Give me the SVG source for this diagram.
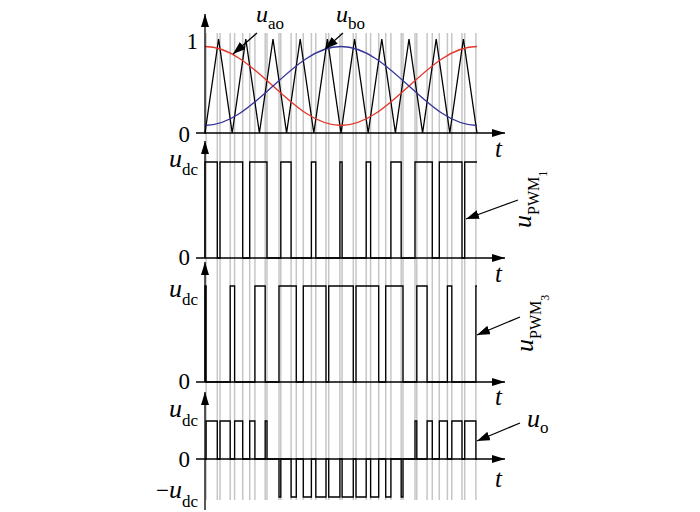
<svg xmlns="http://www.w3.org/2000/svg" width="700" height="512" viewBox="0 0 700 512" font-family="'Liberation Serif', 'Times New Roman', serif">
<defs>
<marker id="ah" viewBox="0 0 13 8" refX="13" refY="4" markerWidth="13" markerHeight="8" markerUnits="userSpaceOnUse" orient="auto"><path d="M0,0L13,4L0,8Z" fill="#000"/></marker>
<marker id="pa" viewBox="0 0 13 9" refX="13" refY="4.5" markerWidth="13" markerHeight="9" markerUnits="userSpaceOnUse" orient="auto"><path d="M0,0L13,4.5L0,9Z" fill="#000"/></marker>
</defs>
<style>
.grid{stroke:#c6c6c6;stroke-width:1.5;fill:none}
.axis{stroke:#000;stroke-width:1.3;fill:none;marker-end:url(#ah)}
.wave{stroke:#000;stroke-width:1.3;fill:none}
.red{stroke:#e5352a;stroke-width:1.3;fill:none}
.blue{stroke:#34349a;stroke-width:1.3;fill:none}
.ptr{stroke:#000;stroke-width:1.2;fill:none;marker-end:url(#pa)}
text{font-family:"Liberation Serif","Times New Roman",serif;fill:#000}
.u{font-family:"Liberation Serif","Times New Roman",serif;font-style:italic;font-size:26px}
.ut{font-family:"Liberation Serif","Times New Roman",serif;font-style:italic;font-size:24px}
.sub{font-family:"Liberation Serif","Times New Roman",serif;font-size:17px}
.sub2{font-family:"Liberation Serif","Times New Roman",serif;font-size:16px}
.sub3{font-family:"Liberation Serif","Times New Roman",serif;font-size:12px}
.num{font-family:"Liberation Serif","Times New Roman",serif;font-size:23px}
.t{font-family:"Liberation Serif","Times New Roman",serif;font-style:italic;font-size:25px}
</style>
<rect x="0" y="0" width="700" height="512" fill="#fff"/>

<g id="switch-instants">
<path class="grid" d="M206.1 33V500M217.3 33V500M220 33V500M230.2 33V500M234.6 33V500M242.7 33V500M249.7 33V500M254.9 33V500M265.2 33V500M267 33V500M279 33V500M280.8 33V500M291.1 33V500M296.3 33V500M303.3 33V500M311.4 33V500M315.8 33V500M326 33V500M328.7 33V500M339.9 33V500M342.1 33V500M353.3 33V500M356 33V500M366.2 33V500M370.6 33V500M378.7 33V500M385.7 33V500M390.9 33V500M401.2 33V500M403 33V500M415 33V500M416.8 33V500M427.1 33V500M432.3 33V500M439.3 33V500M447.4 33V500M451.8 33V500M462 33V500M464.7 33V500M475.9 33V500"/>
</g>

<g id="panel1">
<path class="wave" d="M205,133L218.6,39L232.2,133L245.8,39L259.4,133L273,39L286.6,133L300.2,39L313.8,133L327.4,39L341,133L354.6,39L368.2,133L381.8,39L395.4,133L409,39L422.6,133L436.2,39L449.8,133L463.4,39L477,133"/>
<path class="red" d="M205,46.52C229.61,46.52 250.82,65.77 273,86C295.18,106.23 316.39,125.48 341,125.48C365.61,125.48 386.82,106.23 409,86C431.18,65.77 452.39,46.52 477,46.52"/>
<path class="blue" d="M205,125.48C229.61,125.48 250.82,106.23 273,86C295.18,65.77 316.39,46.52 341,46.52C365.61,46.52 386.82,65.77 409,86C431.18,106.23 452.39,125.48 477,125.48"/>
<line class="axis" x1="205" y1="134" x2="205" y2="14"/>
<line class="axis" x1="196" y1="133" x2="505" y2="133"/>
<text class="num" x="198" y="49" text-anchor="end">1</text>
<text class="num" x="190" y="142" text-anchor="end">0</text>
<text class="t" x="495" y="157">t</text>
<text x="256" y="22"><tspan class="ut">u</tspan><tspan class="sub" dy="7">ao</tspan></text>
<text x="336" y="22"><tspan class="ut">u</tspan><tspan class="sub" dy="7">bo</tspan></text>
</g>

<g id="panel2">
<path class="wave" d="M205,258V162H217.3V258H220V162H242.7V258H249.7V162H267V258H280.8V162H291.1V258H311.4V162H315.8V258H339.9V162H342.1V258H366.2V162H370.6V258H390.9V162H401.2V258H415V162H432.3V258H439.3V162H462V258H464.7V162H477"/>
<line class="axis" x1="205" y1="258" x2="205" y2="141"/>
<line class="axis" x1="196" y1="258" x2="505" y2="258"/>
<text x="198" y="167" text-anchor="end"><tspan class="u">u</tspan><tspan class="sub" dy="8">dc</tspan></text>
<text class="num" x="190" y="265" text-anchor="end">0</text>
<text class="t" x="495" y="282">t</text>
<text transform="translate(531,228) rotate(-90)"><tspan class="u">u</tspan><tspan class="sub2" dy="8">PWM</tspan><tspan class="sub3" dy="8">1</tspan></text>
</g>

<g id="panel3">
<path class="wave" d="M205,382V286H206.1V382H230.2V286H234.6V382H254.9V286H265.2V382H279V286H296.3V382H303.3V286H326V382H328.7V286H353.3V382H356V286H378.7V382H385.7V286H403V382H416.8V286H427.1V382H447.4V286H451.8V382H475.9V286H477"/>
<line class="axis" x1="205" y1="382" x2="205" y2="262"/>
<line class="axis" x1="196" y1="382" x2="505" y2="382"/>
<text x="198" y="297" text-anchor="end"><tspan class="u">u</tspan><tspan class="sub" dy="8">dc</tspan></text>
<text class="num" x="190" y="389" text-anchor="end">0</text>
<text class="t" x="495" y="405">t</text>
<text transform="translate(533,352) rotate(-90)"><tspan class="u">u</tspan><tspan class="sub2" dy="8">PWM</tspan><tspan class="sub3" dy="8">3</tspan></text>
</g>

<g id="panel4">
<path class="wave" d="M205,459H206.1V421H217.3V459H220V421H230.2V459H234.6V421H242.7V459H249.7V421H254.9V459H265.2V421H267V459H279V497H280.8V459H291.1V497H296.3V459H303.3V497H311.4V459H315.8V497H326V459H328.7V497H339.9V459H342.1V497H353.3V459H356V497H366.2V459H370.6V497H378.7V459H385.7V497H390.9V459H401.2V497H403V459H415V421H416.8V459H427.1V421H432.3V459H439.3V421H447.4V459H451.8V421H462V459H464.7V421H475.9V459H477"/>
<line class="axis" x1="205" y1="510" x2="205" y2="392"/>
<line class="axis" x1="196" y1="459" x2="505" y2="459"/>
<text x="198" y="417" text-anchor="end"><tspan class="u">u</tspan><tspan class="sub" dy="9">dc</tspan></text>
<text class="num" x="190" y="467" text-anchor="end">0</text>
<text x="198" y="498" text-anchor="end"><tspan class="num">−</tspan><tspan class="u">u</tspan><tspan class="sub" dy="9">dc</tspan></text>
<text class="t" x="495" y="487">t</text>
<text x="527" y="427"><tspan class="u">u</tspan><tspan class="sub" dy="6">o</tspan></text>
</g>

<g id="connectors">
<line class="ptr" x1="257" y1="33" x2="233" y2="54"/>
<line class="ptr" x1="343" y1="33" x2="325" y2="49"/>
<line class="ptr" x1="518" y1="200" x2="466" y2="219"/>
<line class="ptr" x1="520" y1="317" x2="477" y2="335"/>
<line class="ptr" x1="520" y1="423" x2="477" y2="441"/>
</g>
</svg>
